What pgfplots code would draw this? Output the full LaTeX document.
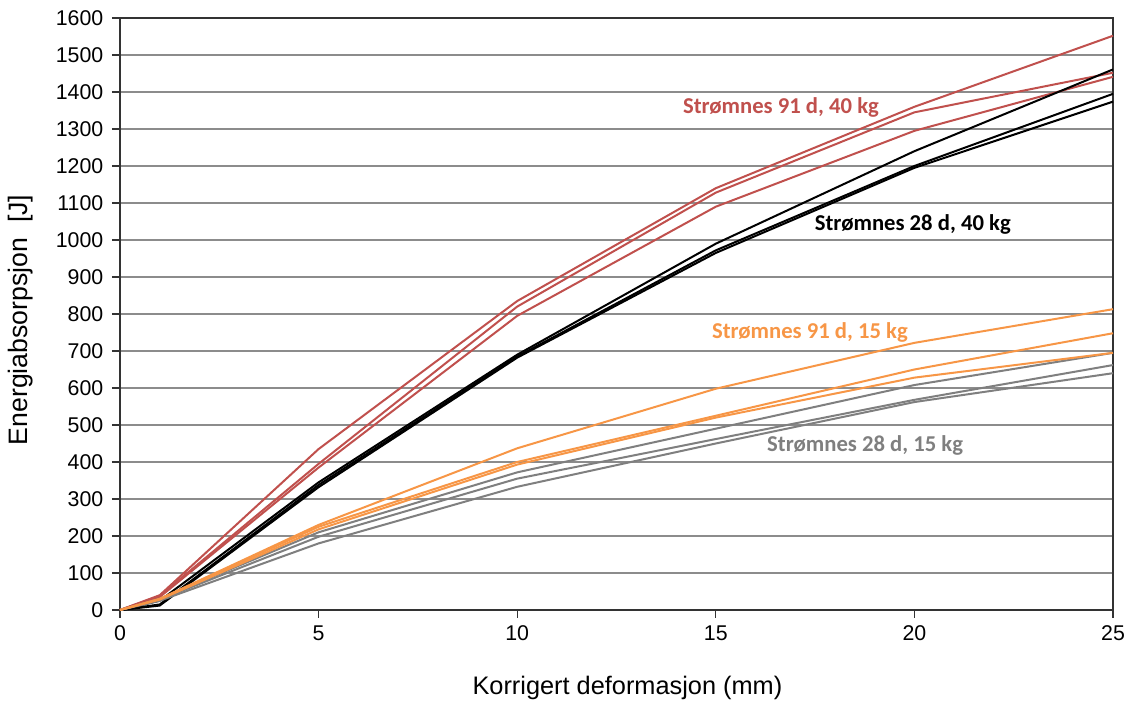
\documentclass[border=0pt]{standalone}
\usepackage{pgfplots}
\pgfplotsset{compat=1.18}
\usepackage{fontspec}
\setmainfont{Liberation Sans}
\newfontfamily\calib{Carlito}
\definecolor{cred}{HTML}{C0504D}
\definecolor{corange}{HTML}{F79646}
\definecolor{cgray}{HTML}{7F7F7F}
\definecolor{cgrid}{HTML}{8C8C8C}
\begin{document}
\begin{tikzpicture}
\begin{axis}[
  scale only axis,
  width=744.75pt, height=444pt,
  xmin=0, xmax=25, ymin=0, ymax=1600,
  xtick={0,5,...,25}, ytick={0,100,...,1600},
  xtick pos=lower, ytick pos=left,
  ymajorgrids, major grid style={cgrid, line width=1pt},
  axis line style={black!80, line width=1pt},
  tick style={black!80, line width=0.8pt},
  tick align=outside, major tick length=6pt,
  ticklabel style={font=\fontsize{16}{18}\selectfont},
  yticklabel style={xshift=-3pt},
  xticklabel style={yshift=-2pt},
  /pgf/number format/assume math mode=true,
  /pgf/number format/1000 sep={},
  xlabel={Korrigert deformasjon (mm)},
  ylabel={Energiabsorpsjon\ \ [J]},
  xlabel style={font=\fontsize{19}{22}\selectfont, at={(axis description cs:0.511,-0.1318)}, anchor=center},
  ylabel style={font=\fontsize{20}{23}\selectfont, at={(axis description cs:-0.0997,0.49)}, anchor=center},
  every axis plot/.append style={line width=1.5pt, mark=none},
  clip=false,
]
% red 91 d 40 kg
\addplot[cred] coordinates {(0,0)(1,40)(5,435)(10,835)(15,1140)(20,1360)(25,1552)};
\addplot[cred] coordinates {(0,0)(1,38)(5,395)(10,820)(15,1128)(20,1345)(25,1452)};
\addplot[cred] coordinates {(0,0)(1,35)(5,385)(10,795)(15,1090)(20,1295)(25,1441)};
% black 28 d 40 kg
\addplot[black] coordinates {(0,0)(1,25)(5,345)(10,690)(15,990)(20,1240)(25,1461)};
\addplot[black] coordinates {(0,0)(1,15)(5,338)(10,685)(15,972)(20,1200)(25,1395)};
\addplot[black] coordinates {(0,0)(1,12)(5,332)(10,682)(15,965)(20,1195)(25,1374)};
% gray 28 d 15 kg
\addplot[cgray] coordinates {(0,0)(1,30)(5,210)(10,372)(15,490)(20,608)(25,695)};
\addplot[cgray] coordinates {(0,0)(1,28)(5,198)(10,355)(15,462)(20,568)(25,662)};
\addplot[cgray] coordinates {(0,0)(1,25)(5,180)(10,333)(15,450)(20,562)(25,640)};
% orange 91 d 15 kg
\addplot[corange] coordinates {(0,0)(1,30)(5,230)(10,437)(15,598)(20,722)(25,813)};
\addplot[corange] coordinates {(0,0)(1,30)(5,225)(10,400)(15,525)(20,650)(25,748)};
\addplot[corange] coordinates {(0,0)(1,28)(5,218)(10,393)(15,520)(20,628)(25,695)};
\node[font=\calib\bfseries\fontsize{17}{20}\selectfont, text=cred] at (axis cs:16.64,1357) {Strømnes 91 d, 40 kg};
\node[font=\calib\bfseries\fontsize{17}{20}\selectfont, text=black] at (axis cs:19.96,1043) {Strømnes 28 d, 40 kg};
\node[font=\calib\bfseries\fontsize{17}{20}\selectfont, text=corange] at (axis cs:17.37,751) {Strømnes 91 d, 15 kg};
\node[font=\calib\bfseries\fontsize{17}{20}\selectfont, text=cgray] at (axis cs:18.76,446) {Strømnes 28 d, 15 kg};
\end{axis}
\path (current axis.south west) ++(-90pt,-72pt) rectangle ([shift={(13.5pt,13.5pt)}]current axis.north east);
\end{tikzpicture}
\end{document}
